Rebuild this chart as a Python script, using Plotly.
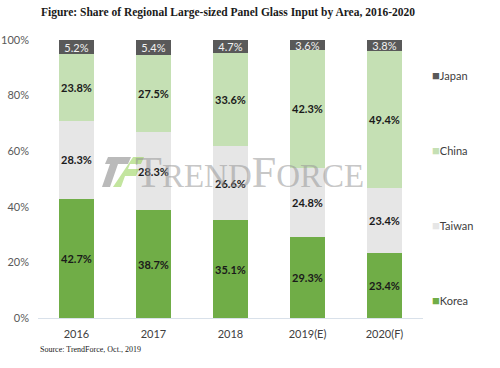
import plotly.graph_objects as go

years = ["2016", "2017", "2018", "2019(E)", "2020(F)"]
korea = [42.7, 38.7, 35.1, 29.3, 23.4]
taiwan = [28.3, 28.3, 26.6, 24.8, 23.4]
china = [23.8, 27.5, 33.6, 42.3, 49.4]
japan = [5.2, 5.4, 4.7, 3.6, 3.8]

series = [
    ("Korea", korea, "#70AD47", "#1a1a1a", True),
    ("Taiwan", taiwan, "#E6E6E6", "#1a1a1a", True),
    ("China", china, "#C5E0B4", "#1a1a1a", True),
    ("Japan", japan, "#595959", "#f2f2f2", False),
]

# plot area in pixels (for placing legend/watermark)
L, R, T, B = 38, 423, 40, 318
def px(x):
    return (x - L) / (R - L)
def py(y):
    return (B - y) / (B - T)

fig = go.Figure()
for name, vals, color, tcolor, bold in series:
    labels = [f"{v:.1f}%" for v in vals]
    if bold:
        labels = [f"<b>{s}</b>" for s in labels]
    fig.add_trace(go.Bar(
        x=years, y=vals, name=name,
        marker=dict(color=color, line=dict(width=0)),
        text=labels,
        textposition="inside", insidetextanchor="middle",
        constraintext="none",
        textfont=dict(family="Lato", size=11, color=tcolor),
        textangle=0,
        hoverinfo="skip", showlegend=False,
    ))

# manual legend (Japan top, Korea bottom)
legend_rows = [("Japan", "#595959", 75), ("China", "#C5E0B4", 150),
               ("Taiwan", "#E6E6E6", 225), ("Korea", "#70AD47", 300)]
annotations = []
for name, color, ypx in legend_rows:
    annotations.append(dict(
        text=f"<span style='color:{color};font-size:13px'>■</span>{name}",
        x=px(430), y=py(ypx), xref="paper", yref="paper", xanchor="left", yanchor="middle",
        showarrow=False, font=dict(family="Lato", size=11, color="#404040")))

# watermark
annotations.append(dict(
    text="T<span style='font-size:33px'>REND</span>F<span style='font-size:33px'>ORCE</span>",
    x=px(250), y=py(172), xref="paper", yref="paper", showarrow=False,
    font=dict(family="Liberation Serif", size=44, color="rgba(150,150,150,0.55)")))
annotations.append(dict(
    text="Source: TrendForce, Oct., 2019", x=0.0, y=py(349), xref="paper", yref="paper",
    xanchor="left", yanchor="middle",
    showarrow=False, font=dict(family="Liberation Serif", size=8, color="#1a1a1a")))

def path(pts):
    return "M " + " L ".join(f"{px(a):.4f},{py(b):.4f}" for a, b in pts) + " Z"

shapes = [
    dict(type="path", xref="paper", yref="paper", layer="above", line=dict(width=0),
         fillcolor="rgba(130,130,130,0.55)",
         path=path([(108, 157), (131, 157), (128, 164), (118, 164), (110, 187), (102, 187), (110, 164), (105, 164)])),
    dict(type="path", xref="paper", yref="paper", layer="above", line=dict(width=0),
         fillcolor="rgba(146,208,80,0.55)",
         path=path([(133, 157), (144, 157), (141, 164), (130, 164), (128, 169), (139, 169), (136, 176), (125, 176), (121, 187), (113, 187)])),
]

fig.update_layout(
    width=500, height=368,
    barmode="stack", bargap=0.545,
    plot_bgcolor="white", paper_bgcolor="white",
    margin=dict(l=L, r=500 - R, t=T, b=368 - B, autoexpand=False),
    font=dict(family="Lato", size=11, color="#595959"),
    title=dict(text="<b>Figure: Share of Regional Large-sized Panel Glass Input by Area, 2016-2020</b>",
               x=0.456, xanchor="center", y=0.968, yanchor="middle",
               font=dict(family="Liberation Serif", size=11.5, color="#1a1a1a")),
    showlegend=False,
    hovermode=False,
    xaxis=dict(showline=True, linecolor="#D9E1EA", linewidth=1, ticks="", automargin=False,
               ticklabelstandoff=6,
               tickfont=dict(family="Lato", size=11, color="#404040"), showgrid=False),
    yaxis=dict(range=[0, 100], tickvals=[0, 20, 40, 60, 80, 100],
               ticktext=["0%", "20%", "40%", "60%", "80%", "100%"], automargin=False,
               ticklabelstandoff=8,
               showgrid=False, zeroline=False, showline=False, ticks="",
               tickfont=dict(family="Lato", size=11, color="#595959")),
    annotations=annotations,
    shapes=shapes,
)

fig.write_html("out.html", config={"displayModeBar": False},
               post_script="document.body.style.margin='0';document.body.style.overflow='hidden';")
